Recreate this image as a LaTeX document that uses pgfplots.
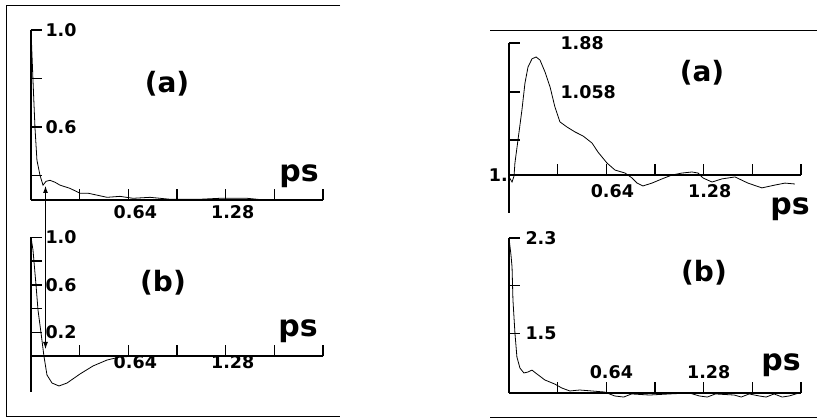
\documentclass[border=0pt]{standalone}
\usepackage{pgfplots}
\pgfplotsset{compat=1.18}
\usetikzlibrary{arrows.meta}
\usepackage{fontspec}
\setmainfont{DejaVu Sans}

\begin{document}
\begin{tikzpicture}
\useasboundingbox (0pt,0pt) rectangle (817pt,419pt);
\pgfplotsset{
  panel/.style={
    scale only axis, width=292pt,
    axis lines*=left, xmin=0, xmax=1.92,
    enlargelimits=false,
    tick align=inside, major tick length=11pt,
    axis line style={line width=1.4pt},
    tick style={line width=1.4pt, black},
    xtick={0.32,0.64,0.96,1.28,1.60,1.92},
    xticklabels={,0.64,,1.28,,},
    ticklabel style={font=\bfseries\fontsize{17.5}{18}\selectfont},
    yticklabel style={anchor=west},
    clip=false, anchor=south west,
  },
  curve/.style={black, line width=0.8pt, no markers},
}
\tikzset{lab/.style={font=\bfseries\fontsize{28}{30}\selectfont, inner sep=0pt},
         ps/.style={font=\bfseries\fontsize{30}{32}\selectfont, inner sep=0pt}}

% frames
\draw[line width=1pt] (340pt,413pt) -- (6pt,413pt) -- (6pt,2pt) -- (340pt,2pt);
\draw[line width=1pt] (490pt,388pt) -- (817pt,388pt);
\draw[line width=1pt] (490pt,1pt) -- (817pt,1pt);

% left (a)
\begin{axis}[panel, at={(31pt,219pt)}, height=170pt, ymin=0.3, ymax=1.0,
  ytick={0.4,0.6,0.8,1.0}, yticklabels={,0.6,,1.0},
  yticklabel style={xshift=11pt},
  xticklabel style={xshift=7pt, yshift=-2pt}]
\addplot[curve] coordinates {
(0,1.0) (0.013,0.794) (0.026,0.6) (0.039,0.464) (0.059,0.402) (0.079,0.361)
(0.099,0.377) (0.125,0.381) (0.158,0.373) (0.191,0.361) (0.256,0.348)
(0.322,0.328) (0.375,0.328) (0.434,0.320) (0.500,0.311) (0.585,0.315)
(0.671,0.307) (0.783,0.311) (0.914,0.303) (1.111,0.303) (1.243,0.307)
(1.420,0.307) (1.552,0.299) (1.703,0.301) (1.92,0.30)};
\end{axis}

% left (b)
\begin{axis}[panel, at={(31pt,63pt)}, height=118.5pt, ymin=0, ymax=1.0,
  ytick={0.2,0.4,0.6,0.8,1.0}, yticklabels={0.2,,0.6,,1.0},
  yticklabel style={xshift=11pt},
  xticklabel style={xshift=7pt, yshift=4pt}]
\addplot[curve] coordinates {
(0,1.0) (0.013,0.895) (0.033,0.599) (0.046,0.388) (0.066,0.194) (0.085,0.0)
(0.105,-0.160) (0.138,-0.228) (0.184,-0.253) (0.237,-0.228) (0.322,-0.152)
(0.408,-0.084) (0.500,-0.034) (0.585,-0.008) (0.717,0) (1.92,0)};
\draw[line width=1.4pt] (axis cs:0,0) -- (axis cs:0,-0.304);
\end{axis}

% right (a)
\begin{axis}[panel, at={(509pt,244pt)}, height=132pt, ymin=1.0, ymax=1.88,
  ytick={1.233,1.553,1.88}, yticklabels={,1.058,1.88},
  yticklabel style={xshift=48pt},
  xticklabel style={xshift=6pt, yshift=-6pt}]
\addplot[curve] coordinates {
(0,0.987) (0.020,0.953) (0.033,0.993) (0.039,1.080) (0.059,1.233) (0.085,1.433)
(0.105,1.613) (0.125,1.720) (0.151,1.774) (0.178,1.787) (0.204,1.766)
(0.237,1.686) (0.270,1.587) (0.302,1.453) (0.335,1.354) (0.381,1.320)
(0.434,1.287) (0.487,1.260) (0.546,1.213) (0.585,1.153) (0.644,1.080)
(0.697,1.033) (0.763,1.013) (0.809,0.980) (0.842,0.946) (0.881,0.927)
(0.940,0.946) (1.006,0.974) (1.072,1.0) (1.137,1.013) (1.203,1.020)
(1.243,1.013) (1.276,0.980) (1.335,0.953) (1.400,0.974) (1.486,0.987)
(1.571,0.946) (1.663,0.914) (1.749,0.933) (1.815,0.946) (1.880,0.940)};
\draw[line width=1.4pt] (axis cs:0,1.0) -- (axis cs:0,0.747);
\node[anchor=east, inner sep=0pt, xshift=-1pt, font=\bfseries\fontsize{17.5}{18}\selectfont] at (axis cs:0,1.0) {1.};
\end{axis}

% right (b)
\begin{axis}[panel, at={(509pt,26pt)}, height=155pt, ymin=1.0, ymax=2.3,
  ytick={1.5,1.9,2.3}, yticklabels={1.5,,2.3},
  yticklabel style={xshift=13pt},
  xticklabel style={anchor=south, xshift=5pt, yshift=11pt}]
\addplot[curve] coordinates {
(0,2.3) (0.013,2.157) (0.020,2.057) (0.026,1.78) (0.039,1.503) (0.052,1.302)
(0.072,1.209) (0.098,1.168) (0.125,1.176) (0.151,1.192) (0.183,1.160)
(0.236,1.109) (0.301,1.075) (0.347,1.042) (0.400,1.017) (0.465,1.025)
(0.544,1.017) (0.629,1.008) (0.695,0.975) (0.754,0.966) (0.806,0.992)
(0.924,0.983) (1.055,0.992) (1.186,1.0) (1.252,0.975) (1.304,0.966)
(1.357,0.992) (1.481,0.983) (1.527,0.966) (1.579,0.992) (1.645,0.975)
(1.691,0.966) (1.743,0.992) (1.796,0.966) (1.842,0.975) (1.907,1.0)};
\end{axis}

% annotations
\draw[line width=0.9pt, {Latex[length=7pt,width=5pt]}-{Latex[length=7pt,width=5pt]}] (45.5pt,233pt) -- (45.5pt,70pt);
\node[lab] at (167pt,335pt) {(a)};
\node[lab] at (163pt,136pt) {(b)};
\node[lab] at (702pt,346pt) {(a)};
\node[lab] at (704pt,146pt) {(b)};
\node[ps] at (299pt,243pt) {ps};
\node[ps] at (298pt,88pt) {ps};
\node[ps] at (790pt,210pt) {ps};
\node[ps] at (781pt,54pt) {ps};
\end{tikzpicture}
\end{document}
